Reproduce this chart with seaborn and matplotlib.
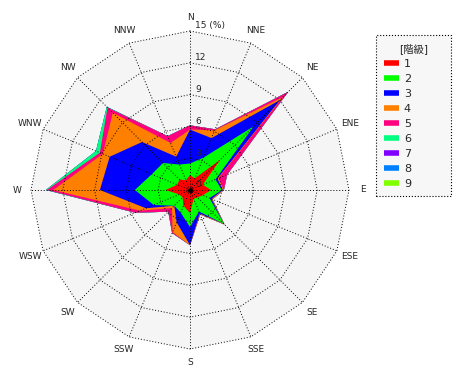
import numpy as np
import seaborn as sns
import matplotlib.pyplot as plt
from matplotlib.lines import Line2D

# wind directions, clockwise from north
directions = ['N', 'NNE', 'NE', 'ENE', 'E', 'ESE', 'SE', 'SSE',
              'S', 'SSW', 'SW', 'WSW', 'W', 'WNW', 'NW', 'NNW']

# frequency (%) of each wind-speed class per direction
class_1 = [1.4, 1.2, 4.0, 1.3, 2.0, 1.3, 1.0, 0.9, 2.2, 1.6, 1.0, 1.1, 2.3, 1.3, 1.4, 1.0]
class_2 = [1.1, 2.1, 4.5, 1.3, 1.0, 0.7, 3.5, 1.3, 1.3, 0.7, 1.1, 2.6, 2.9, 2.6, 2.2, 1.6]
class_3 = [3.2, 2.0, 3.5, 0.2, 0.1, 0.2, 0.0, 0.2, 1.7, 1.0, 0.0, 0.8, 3.3, 4.3, 2.8, 0.8]
class_4 = [0.0, 0.8, 0.4, 0.1, 0.1, 0.1, 0.1, 0.1, 0.0, 1.0, 0.3, 0.6, 4.4, 0.7, 3.9, 1.4]
class_5 = [0.4, 0.1, 0.7, 0.9, 0.0, 0.0, 0.0, 0.0, 0.0, 0.1, 0.5, 0.5, 0.6, 0.3, 0.7, 0.7]
class_6 = [0.0, 0.0, 0.0, 0.0, 0.0, 0.0, 0.0, 0.0, 0.0, 0.0, 0.0, 0.0, 0.1, 0.4, 0.1, 0.0]
class_7 = [0.0] * 16
class_8 = [0.0] * 16
class_9 = [0.0] * 16

class_labels = ['1', '2', '3', '4', '5', '6', '7', '8', '9']
class_colors = ['#ff0000', '#00ff00', '#0000ff', '#ff8000', '#ff0080',
                '#00ff80', '#8000ff', '#0080ff', '#80ff00']
ring_values = [3, 6, 9, 12, 15]

sns.set_style('white')
plt.rcParams['font.family'] = ['DejaVu Sans', 'Noto Sans CJK JP']

fig = plt.figure(figsize=(4.7, 3.8), dpi=100)
scale = 10.6  # px per %
ax = fig.add_axes([0, 0, 1, 1])
ax.set_xlim(-190 / scale, 280 / scale)
ax.set_ylim(-190 / scale, 190 / scale)
ax.axis('off')

theta = np.deg2rad(np.arange(16) * 22.5)
sx, sy = np.sin(theta), np.cos(theta)

# background of the chart area
rmax = ring_values[-1]
ax.fill(np.append(sx, sx[0]) * rmax, np.append(sy, sy[0]) * rmax,
        color='#f5f5f5', lw=0, zorder=0)

# stacked (cumulative) polygons, largest first
data = np.array([class_1, class_2, class_3, class_4, class_5,
                 class_6, class_7, class_8, class_9])
cum = np.cumsum(data, axis=0)
for k in range(len(cum) - 1, -1, -1):
    r = cum[k]
    if r.max() == 0:
        continue
    ax.fill(np.append(r * sx, r[0] * sx[0]), np.append(r * sy, r[0] * sy[0]),
            color=class_colors[k], lw=0, zorder=2)

# dotted polygon grid
dot = (0, (1, 2))
for rv in ring_values:
    ax.plot(np.append(sx, sx[0]) * rv, np.append(sy, sy[0]) * rv,
            color='black', lw=0.7, ls=dot, zorder=3)
for i in range(16):
    ax.plot([0, sx[i] * rmax], [0, sy[i] * rmax], color='black', lw=0.7,
            ls=dot, zorder=3)
ax.plot(0, 0, 'o', color='black', ms=2.5, zorder=4)

# ring labels
for rv in [0] + ring_values:
    txt = '15 (%)' if rv == 15 else str(rv)
    ax.text(0.5, rv + 0.05, txt, fontsize=6.5, ha='left', va='bottom', zorder=5)

# direction labels
for i, d in enumerate(directions):
    ax.text(sx[i] * 16.3, sy[i] * 16.3, d, fontsize=6.5, ha='center',
            va='center', zorder=5)

# legend
handles = [Line2D([], [], color=c, lw=4, solid_capstyle='butt') for c in class_colors]
top = 1 - 35 / 380
leg = ax.legend(handles, class_labels, title='[階級]', loc='upper left',
                bbox_to_anchor=(376 / 470, top - 0.1, 75 / 470, 0.1),
                bbox_transform=fig.transFigure, mode='expand',
                borderaxespad=0,
                fontsize=8, title_fontsize=7.5, handlelength=1.4,
                handletextpad=0.4, labelspacing=0.45, borderpad=0.7,
                frameon=True, fancybox=False, framealpha=1)
frame = leg.get_frame()
frame.set_facecolor('#f7f7f7')
frame.set_edgecolor('black')
frame.set_linestyle(':')
frame.set_linewidth(0.8)

fig.savefig('out.png', dpi=100)
